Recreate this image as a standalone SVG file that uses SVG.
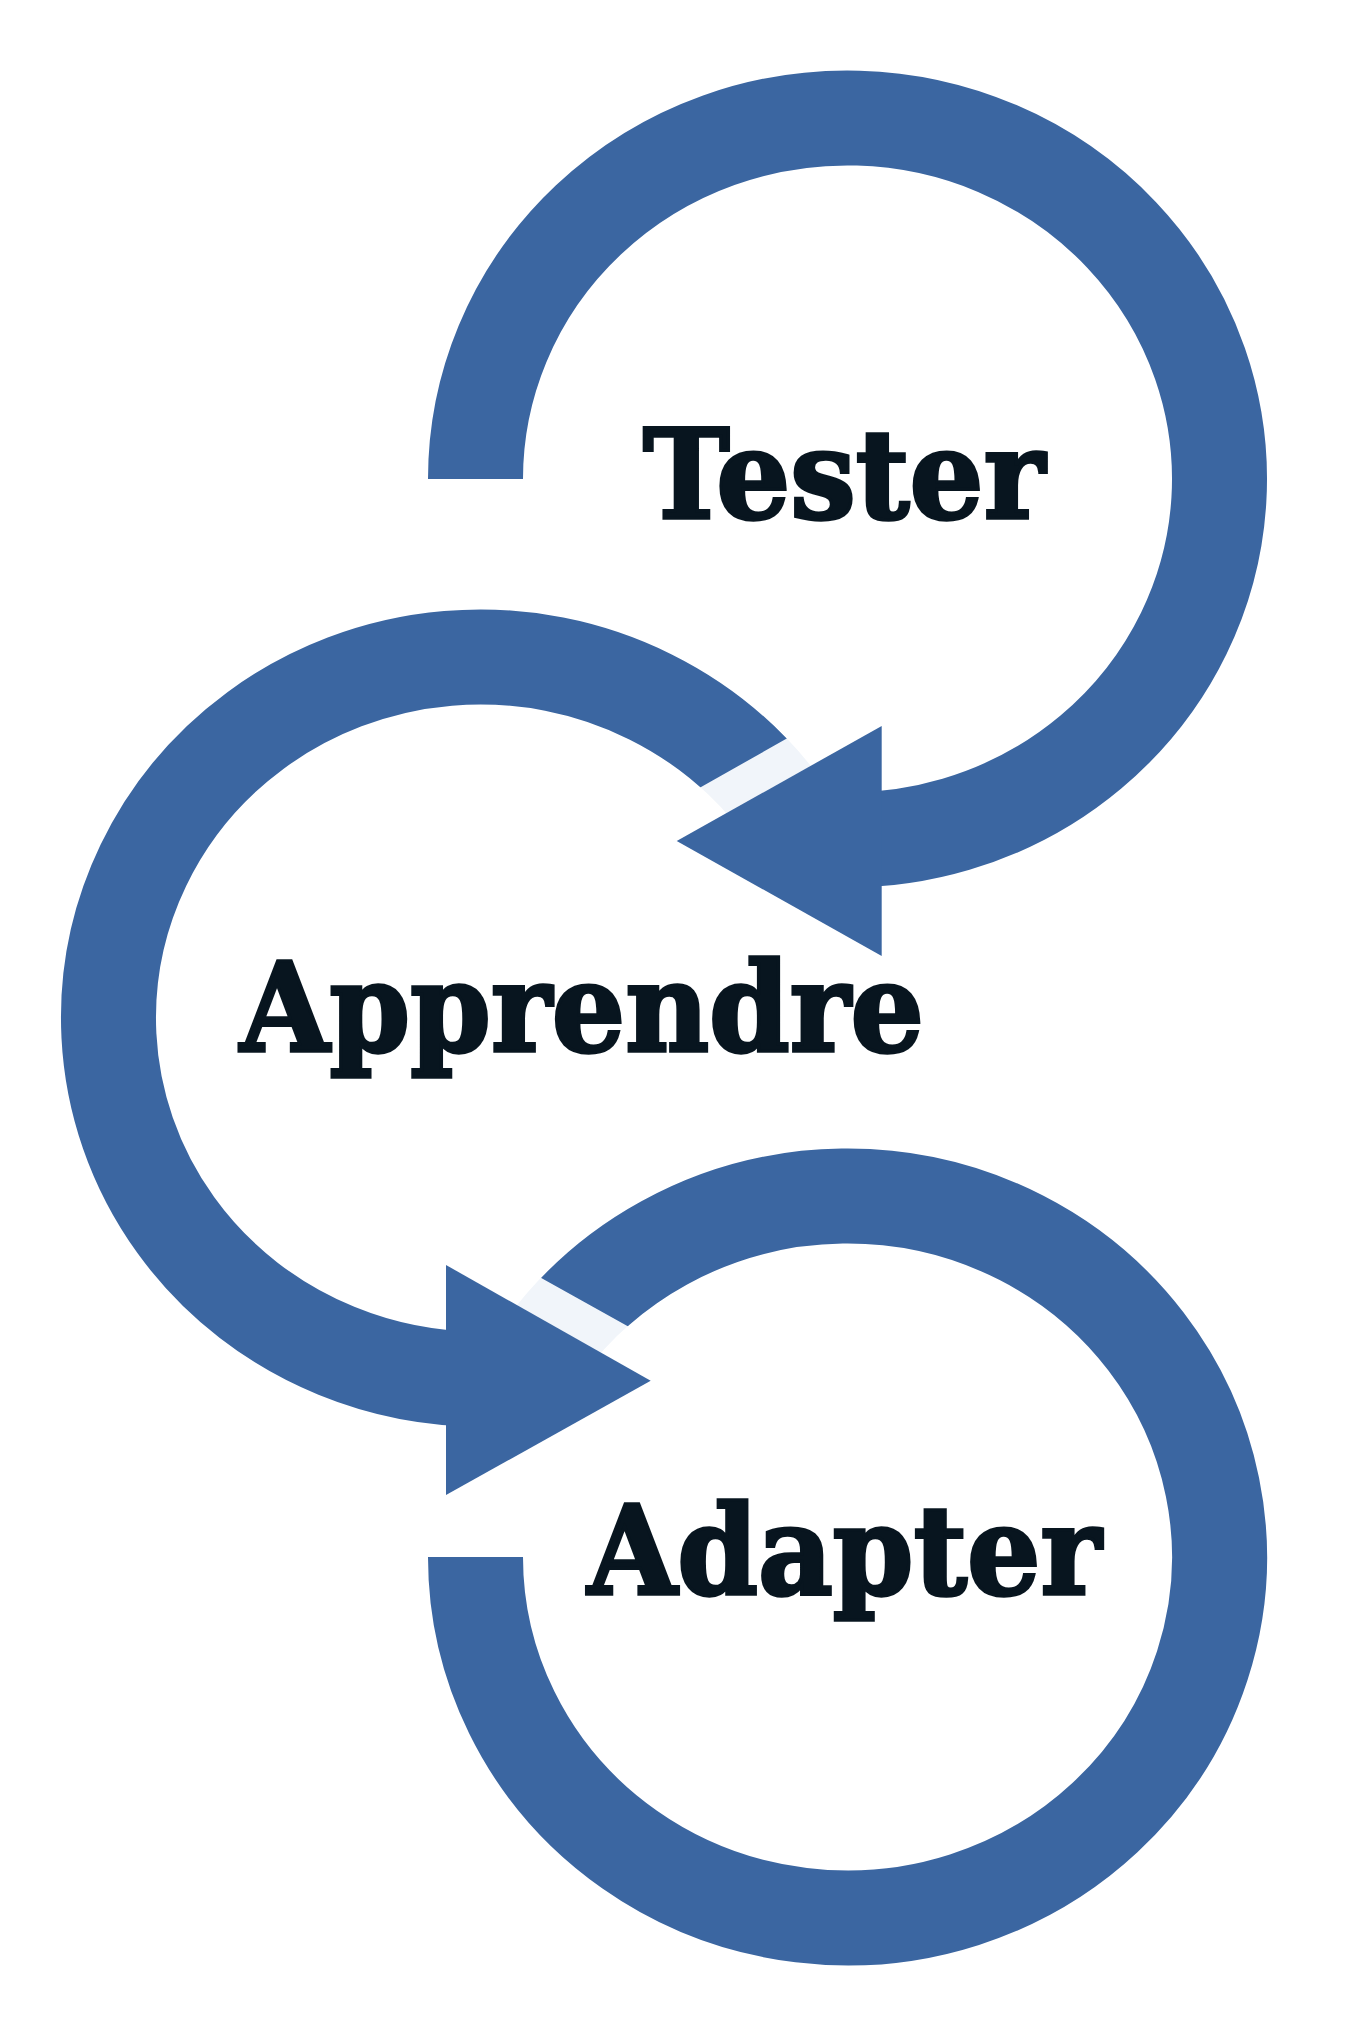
<svg xmlns="http://www.w3.org/2000/svg" width="1364" height="2018" viewBox="0 0 1364 2018">
<style>
.ring{fill:none;stroke:#3b66a1;stroke-width:95;stroke-linecap:butt}
.pale{fill:none;stroke:#f1f5fa;stroke-width:95;stroke-linecap:butt}
.arrow{fill:#3b66a1}
.lbl{font-family:"DejaVu Serif","Liberation Serif",serif;font-weight:700;font-size:124px;fill:#08151f;stroke:#08151f;stroke-width:3.5;stroke-linejoin:miter}
</style>
<defs>
<clipPath id="clip2"><path clip-rule="evenodd" d="M0 0H1364V2018H0Z M640 821.6 L900 674.5 L900 960 L640 960Z"/></clipPath>
<clipPath id="clip3"><path clip-rule="evenodd" d="M0 0H1364V2018H0Z M440 1221.5 L700 1366.6 L700 1500 L440 1500Z"/></clipPath>
</defs>
<rect width="1364" height="2018" fill="#ffffff"/>
<g id="connectors">
<path id="ring1" class="ring" d="M475.5 479 A372 361 0 1 1 815.1 838.6"/>
<path class="pale" d="M802.7 837.5 A372 361 0 0 0 666.5 705.4"/>
<path id="ring2" class="ring" clip-path="url(#clip2)" d="M785.2 810.9 A372 361 0 1 0 512.9 1377.6"/>
<polygon id="arrow1" class="arrow" points="881.7,726 881.7,956 676.7,841"/>
<path class="pale" d="M525.3 1376.5 A372 361 0 0 1 661.5 1244.4"/>
<path id="ring3" class="ring" clip-path="url(#clip3)" d="M542.8 1349.9 A372 361 0 1 1 475.5 1557"/>
<polygon id="arrow2" class="arrow" points="446,1265 446,1495 650.7,1380.7"/>
</g>
<g id="node-tester"><text class="lbl" x="643" y="518" textLength="402" lengthAdjust="spacingAndGlyphs">Tester</text></g>
<g id="node-apprendre"><text class="lbl" x="240" y="1051" textLength="684" lengthAdjust="spacingAndGlyphs">Apprendre</text></g>
<g id="node-adapter"><text class="lbl" x="587.5" y="1594" textLength="514" lengthAdjust="spacingAndGlyphs">Adapter</text></g>
</svg>
